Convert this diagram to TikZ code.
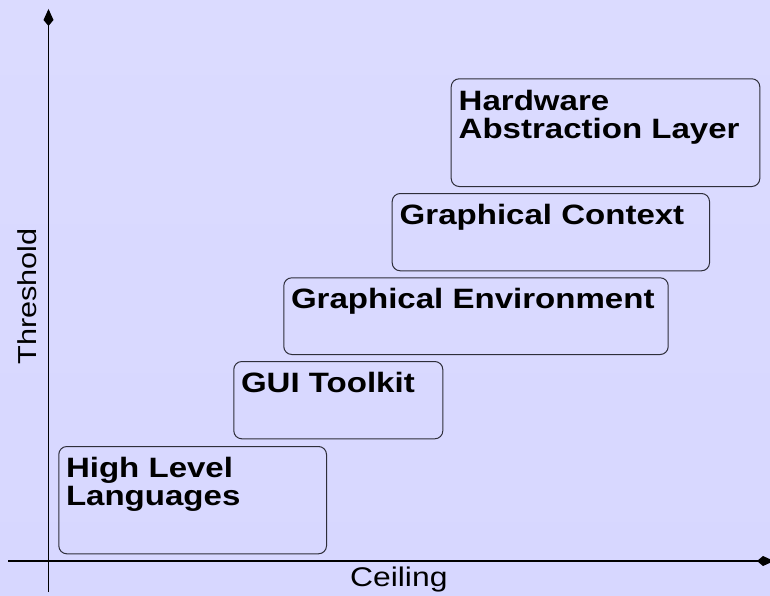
\documentclass[tikz,border=0pt]{standalone}
\usepackage{fontspec}
\setmainfont{Liberation Sans}[FakeStretch=1.18]
\usetikzlibrary{arrows.meta,positioning}

\definecolor{bgtop}{HTML}{DBDBFF}
\definecolor{bgmid}{HTML}{CECEFF}
\definecolor{bgbot}{HTML}{D7D7FF}
\definecolor{boxline}{HTML}{2E2E3A}

\begin{document}
\begin{tikzpicture}[x=1pt, y=-1pt,
  axis/.style={line width=1.3pt, black, -{Kite[length=17pt,width=10pt,inset=6pt]}},
  layerbox/.style={draw=boxline, line width=1pt, rounded corners=8pt,
    inner sep=0pt, anchor=north west},
  layertext/.style={inner sep=0pt, align=left, font=\bfseries\fontsize{28}{28.3}\selectfont},
  axislabel/.style={inner sep=0pt}]

  % background
  \useasboundingbox (0,0) rectangle (770,596);
  \shade[top color=bgtop, middle color=bgmid, bottom color=bgbot] (0,0) rectangle (770,596);

  % axes
  \coordinate (yfoot) at (48.5,592);
  \coordinate (ytip)  at (48.5,9);
  \coordinate (xfoot) at (8,561);
  \coordinate (xtip)  at (774,561);
  \draw[axis] (yfoot) -- (ytip);
  \draw[axis] (xfoot) -- (xtip);

  \node[axislabel, rotate=90, anchor=base, font=\fontsize{26}{30}\selectfont] (thr) at (36,296.5) {Threshold};
  \node[axislabel, anchor=base, font=\fontsize{27}{30}\selectfont] (ceil) at (398.8,586.5) {Ceiling};

  % layer boxes
  \node[layerbox, minimum width=267.7pt, minimum height=107.3pt] (hll)  at (58.3,446)  {};
  \node[layerbox, minimum width=209pt,   minimum height=77.3pt]  (gui)  at (233.3,361) {};
  \node[layerbox, minimum width=384.4pt, minimum height=76.7pt]  (genv) at (283.3,277.3) {};
  \node[layerbox, minimum width=317.3pt, minimum height=77.3pt]  (gctx) at (391.7,193) {};
  \node[layerbox, minimum width=308.6pt, minimum height=107.7pt] (hal)  at (450.7,78.3) {};

  % layer names
  \node[layertext, below right=10.8pt and 7.5pt of hll.north west]  (hllT)  {High Level\\Languages};
  \node[layertext, below right=10.8pt and 7.5pt of gui.north west]  (guiT)  {GUI Toolkit};
  \node[layertext, below right=10.3pt and 7.5pt of genv.north west] (genvT) {Graphical Environment};
  \node[layertext, below right=11.5pt and 7.8pt of gctx.north west] (gctxT) {Graphical Context};
  \node[layertext, below right=11.5pt and 7.8pt of hal.north west]  (halT)  {Hardware\\Abstraction Layer};
\end{tikzpicture}
\end{document}
